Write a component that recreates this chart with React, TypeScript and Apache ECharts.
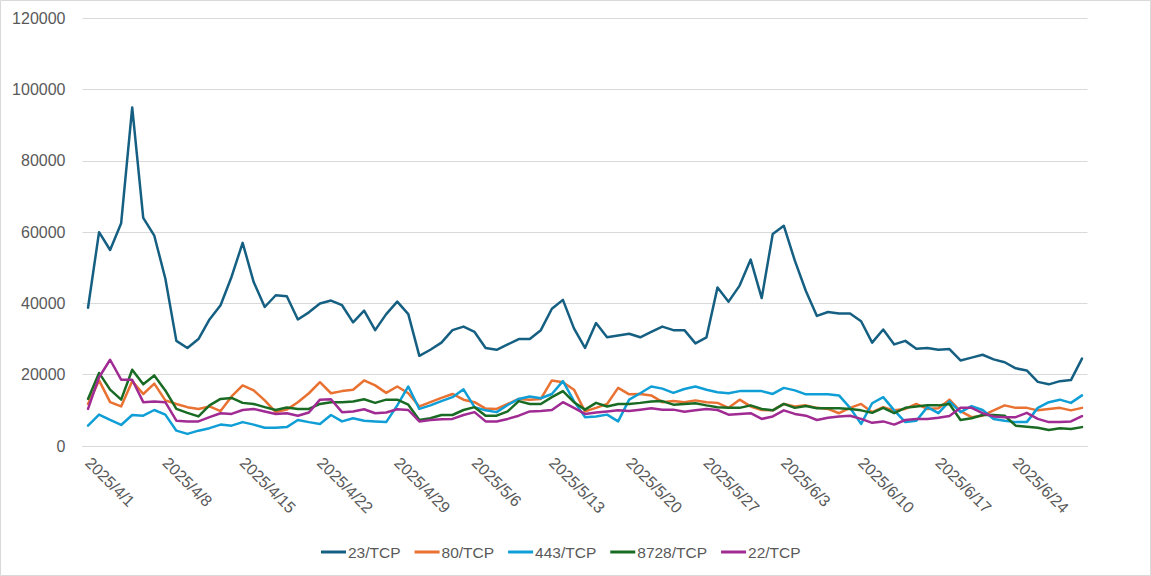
import React, { useEffect, useRef } from "react";
import * as echarts from "echarts";

const DAYS = 91;
const dates: string[] = Array.from({ length: DAYS }, (_, i) => {
  const d = new Date(2025, 3, 1 + i);
  return `${d.getFullYear()}/${d.getMonth() + 1}/${d.getDate()}`;
});

const seriesNames = ["23/TCP", "80/TCP", "443/TCP", "8728/TCP", "22/TCP"];
const seriesColors = ["#156082", "#E97132", "#0F9ED5", "#196B24", "#A02B93"];

const tcp23 = [
  38800, 60000, 55000, 62500, 95000, 64000, 59000, 47000, 29500, 27500,
  30000, 35500, 39500, 47500, 57000, 46000, 39000, 42300, 42000, 35500,
  37500, 40000, 40800, 39500, 34700, 38000, 32500, 37000, 40500, 37000,
  25300, 27000, 29000, 32500, 33500, 32000, 27500, 27000, 28500, 30000,
  30000, 32500, 38500, 41000, 33000, 27500, 34500, 30500, 31000, 31500,
  30500, 32000, 33500, 32500, 32500, 28800, 30500, 44500, 40500, 45000,
  52300, 41500, 59500, 61800, 52000, 43500, 36500, 37600, 37200, 37200,
  35000, 29000, 32700, 28500, 29500, 27300, 27500, 27000, 27200, 24000,
  24800, 25600, 24300, 23500, 21800, 21200, 18000, 17300, 18200, 18500, 24500,
];

const tcp80 = [
  11800, 18400, 12300, 11100, 18200, 14600, 17500, 12800, 11800, 10900,
  10400, 11100, 9800, 13900, 17000, 15600, 12800, 9500, 10200,
  12300, 14800, 17900, 14800, 15400, 15800, 18400, 17000, 14900, 16700,
  14800, 11100, 12300, 13500, 14600, 13000, 12300, 10500,
  10400, 11800, 13200, 13000, 13200, 18400, 17900, 15800, 9700, 10700,
  11800, 16300, 14500, 14600, 14200, 12300, 12600, 12300,
  12800, 12300, 12100, 10700, 13000, 11100, 10100, 10000, 11800, 11100,
  11400, 10700, 10400, 9200, 10700, 11800, 9500, 10900,
  10000, 10400, 11800, 10400, 10600, 13000, 9800, 8100, 8500, 10000,
  11400, 10700, 10700, 10000, 10400, 10700, 10000, 10700,
];

const tcp443 = [
  5700, 8800, 7300, 5900, 8700, 8500, 10100, 8800, 4300, 3400,
  4300, 5000, 6000, 5700, 6700, 6000, 5100, 5100, 5300,
  7300, 6700, 6200, 8700, 6900, 7800, 7100, 6900, 6700, 11400,
  16700, 10400, 11400, 12600, 13700, 15900, 10900, 10000,
  9500, 11500, 13200, 13900, 13400, 14600, 18200, 12600, 8100, 8300,
  8800, 6900, 13000, 14800, 16700, 16100, 14900, 16000,
  16700, 15800, 15100, 14800, 15400, 15400, 15400, 14600, 16300, 15600,
  14500, 14500, 14500, 14200, 10700, 6200, 12000, 13700,
  10000, 6700, 7100, 10900, 9200, 12500, 9500, 11200, 10100, 7600,
  7100, 6700, 6700, 10700, 12300, 13000, 12100, 14200,
];

const tcp8728 = [
  13200, 20500, 15800, 13000, 21400, 17300, 19800, 15600, 10400, 9300,
  8300, 11400, 13200, 13500, 12100, 11800, 10900, 10100, 10800,
  10400, 10400, 11800, 12300, 12300, 12500, 13100, 12100, 13000, 13000,
  11600, 7300, 7800, 8700, 8700, 10100, 10900, 8500,
  8500, 9700, 12600, 11800, 11800, 13700, 15400, 12300, 10200, 12100,
  11100, 11800, 11800, 12100, 12500, 12600, 11600, 11800,
  12000, 11400, 10900, 10700, 10700, 11400, 10400, 10000, 11800, 10700,
  11200, 10600, 10600, 10600, 10400, 10000, 9300, 10700,
  9200, 10700, 11100, 11400, 11400, 11800, 7300, 7800, 8700, 8700,
  8500, 5700, 5400, 5100, 4500, 5000, 4800, 5300,
];

const tcp22 = [
  10400, 19300, 24200, 18600, 18600, 12300, 12500, 12300, 7100, 6900,
  6900, 8100, 9200, 9000, 10100, 10400, 9700, 9000, 9200,
  8500, 9400, 13000, 13100, 9500, 9700, 10300, 9200, 9400, 10300,
  10100, 6900, 7300, 7500, 7600, 8700, 9500, 6900,
  6900, 7600, 8500, 9700, 9800, 10100, 12300, 10700, 9000, 9400,
  9700, 10000, 9800, 10200, 10600, 10200, 10200, 9600,
  10000, 10400, 10100, 8800, 9000, 9200, 7600, 8300, 10000, 9000,
  8500, 7300, 7900, 8300, 8500, 7600, 6500, 6900,
  6000, 7300, 7600, 7600, 7900, 8400, 10700, 10700, 9200, 8300,
  8100, 8100, 9300, 7600, 6700, 6700, 6900, 8400,
];

const seriesData = [tcp23, tcp80, tcp443, tcp8728, tcp22];

const FONT = "'Liberation Sans', Arial, sans-serif";
const TEXT_COLOR = "#595959";
const GRID_COLOR = "#d9d9d9";

export default function App() {
  const ref = useRef<HTMLDivElement>(null);
  useEffect(() => {
    if (!ref.current) return;
    const chart = echarts.init(ref.current, null, { renderer: "svg" });
    chart.setOption({
      animation: false,
      backgroundColor: "#ffffff",
      textStyle: { fontFamily: FONT },
      grid: { left: 82.5, right: 63.5, top: 18.3, bottom: 130, containLabel: false },
      graphic: [
        {
          type: "rect",
          shape: { x: 0.5, y: 0.5, width: 1150, height: 575 },
          style: { fill: "none", stroke: GRID_COLOR, lineWidth: 1 },
          silent: true,
        },
      ],
      legend: {
        left: 316,
        top: 539,
        icon: "rect",
        itemWidth: 25,
        itemHeight: 3,
        itemGap: 14,
        textStyle: { color: TEXT_COLOR, fontSize: 15.5, fontFamily: FONT, padding: [0, 0, 0, -3] },
        data: seriesNames,
      },
      xAxis: {
        type: "category",
        data: dates,
        boundaryGap: true,
        axisLine: { lineStyle: { color: GRID_COLOR, width: 1 } },
        axisTick: { interval: 6, length: 5, lineStyle: { color: GRID_COLOR } },
        axisLabel: {
          interval: 6,
          rotate: -45,
          margin: 14,
          color: TEXT_COLOR,
          fontSize: 16,
          fontFamily: FONT,
        },
        splitLine: { show: false },
      },
      yAxis: {
        type: "value",
        min: 0,
        max: 120000,
        interval: 20000,
        axisLine: { show: false },
        axisTick: { show: false },
        axisLabel: {
          color: TEXT_COLOR,
          fontSize: 16,
          fontFamily: FONT,
          margin: 17,
          formatter: (v: number) => String(v),
        },
        splitLine: { lineStyle: { color: GRID_COLOR, width: 1 } },
      },
      series: seriesNames.map((name, i) => ({
        name,
        type: "line",
        data: seriesData[i],
        symbol: "none",
        showSymbol: false,
        color: seriesColors[i],
        lineStyle: { width: 2.5, color: seriesColors[i], join: "round", cap: "round" },
      })),
    });
    return () => chart.dispose();
  }, []);
  return (
    <div
      ref={ref}
      style={{ position: "absolute", left: 0, top: 0, width: 1151, height: 576 }}
    />
  );
}
